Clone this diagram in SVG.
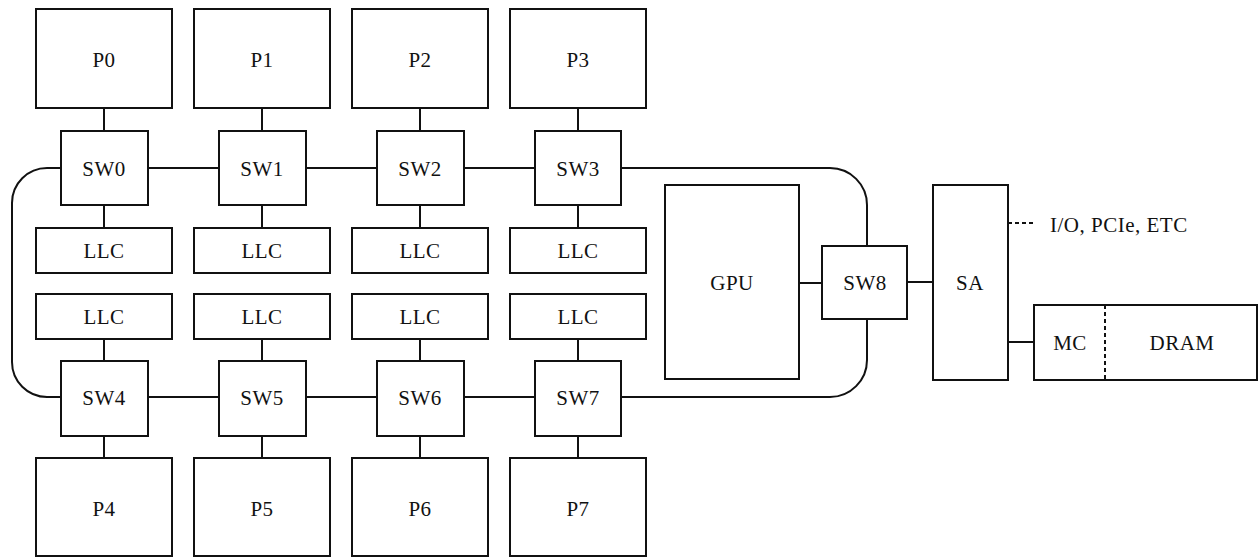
<svg xmlns="http://www.w3.org/2000/svg" width="1259" height="557" viewBox="0 0 1259 557" font-family="Liberation Serif, DejaVu Serif, serif">
<style>
rect{fill:#fff;stroke:#111;stroke-width:2}
.c{fill:none;stroke:#111;stroke-width:2}
.d{stroke-dasharray:4 3}
text{font-size:21px;fill:#111;text-anchor:middle;letter-spacing:0.5px}
</style>
<rect x="0" y="0" width="1259" height="557" style="fill:#fff;stroke:none"/>
<g id="connectors">
<path class="c" d="M104,108V131M262,108V131M420,108V131M578,108V131"/>
<path class="c" d="M104,205V228M262,205V228M420,205V228M578,205V228"/>
<path class="c" d="M104,339V361M262,339V361M420,339V361M578,339V361"/>
<path class="c" d="M104,436V458M262,436V458M420,436V458M578,436V458"/>
<path class="c" d="M148,168H219M306,168H377M464,168H535M148,397H219M306,397H377M464,397H535"/>
<path class="c" d="M61,168H47A35,35 0 0 0 12,203V362A35,35 0 0 0 47,397H61"/>
<path class="c" d="M621,168H830A37,37 0 0 1 867,205V246M867,319V360A37,37 0 0 1 830,397H621"/>
<path class="c" d="M799,283H822M907,282H933M1008,342H1034"/>
<path class="c d" d="M1008,223H1036"/>
</g>
<g id="P0"><rect x="36" y="9" width="136" height="99"/><text x="104" y="67" font-family="Liberation Serif, serif">P0</text></g>
<g id="P1"><rect x="194" y="9" width="136" height="99"/><text x="262" y="67">P1</text></g>
<g id="P2"><rect x="352" y="9" width="136" height="99"/><text x="420" y="67">P2</text></g>
<g id="P3"><rect x="510" y="9" width="136" height="99"/><text x="578" y="67">P3</text></g>
<g id="SW0"><rect x="61" y="131" width="87" height="74"/><text x="104" y="176">SW0</text></g>
<g id="SW1"><rect x="219" y="131" width="87" height="74"/><text x="262" y="176">SW1</text></g>
<g id="SW2"><rect x="377" y="131" width="87" height="74"/><text x="420" y="176">SW2</text></g>
<g id="SW3"><rect x="535" y="131" width="86" height="74"/><text x="578" y="176">SW3</text></g>
<g id="LLC0"><rect x="36" y="228" width="136" height="45"/><text x="104" y="258">LLC</text></g>
<g id="LLC1"><rect x="194" y="228" width="136" height="45"/><text x="262" y="258">LLC</text></g>
<g id="LLC2"><rect x="352" y="228" width="136" height="45"/><text x="420" y="258">LLC</text></g>
<g id="LLC3"><rect x="510" y="228" width="136" height="45"/><text x="578" y="258">LLC</text></g>
<g id="LLC4"><rect x="36" y="294" width="136" height="45"/><text x="104" y="324">LLC</text></g>
<g id="LLC5"><rect x="194" y="294" width="136" height="45"/><text x="262" y="324">LLC</text></g>
<g id="LLC6"><rect x="352" y="294" width="136" height="45"/><text x="420" y="324">LLC</text></g>
<g id="LLC7"><rect x="510" y="294" width="136" height="45"/><text x="578" y="324">LLC</text></g>
<g id="SW4"><rect x="61" y="361" width="87" height="75"/><text x="104" y="405">SW4</text></g>
<g id="SW5"><rect x="219" y="361" width="87" height="75"/><text x="262" y="405">SW5</text></g>
<g id="SW6"><rect x="377" y="361" width="87" height="75"/><text x="420" y="405">SW6</text></g>
<g id="SW7"><rect x="535" y="361" width="86" height="75"/><text x="578" y="405">SW7</text></g>
<g id="P4"><rect x="36" y="458" width="136" height="98"/><text x="104" y="516">P4</text></g>
<g id="P5"><rect x="194" y="458" width="136" height="98"/><text x="262" y="516">P5</text></g>
<g id="P6"><rect x="352" y="458" width="136" height="98"/><text x="420" y="516">P6</text></g>
<g id="P7"><rect x="510" y="458" width="136" height="98"/><text x="578" y="516">P7</text></g>
<g id="GPU"><rect x="665" y="185" width="134" height="194"/><text x="732" y="290">GPU</text></g>
<g id="SW8"><rect x="822" y="246" width="85" height="73"/><text x="865" y="290">SW8</text></g>
<g id="SA"><rect x="933" y="185" width="75" height="195"/><text x="970" y="290">SA</text></g>
<g id="IO"><text x="1050" y="232" style="text-anchor:start">I/O, PCIe, ETC</text></g>
<g id="MC-DRAM"><rect x="1034" y="305" width="223" height="75"/><path class="c d" d="M1105,305V380"/><text x="1070" y="350">MC</text><text x="1182" y="350">DRAM</text></g>
</svg>
